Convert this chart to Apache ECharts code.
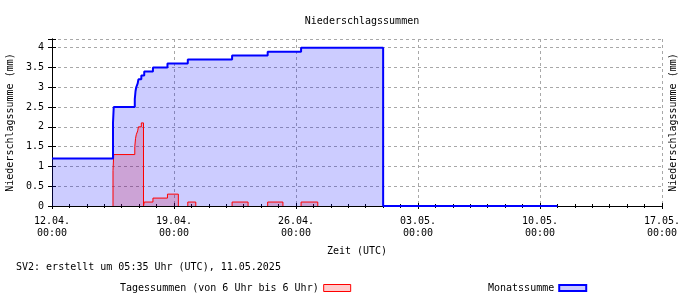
<!DOCTYPE html>
<html><head><meta charset="utf-8">
<script src="https://cdn.jsdelivr.net/npm/echarts@6/dist/echarts.min.js"></script>
<style>html,body{margin:0;padding:0;background:#fff}#c{width:700px;height:300px}</style>
</head><body><div id="c"></div>
<script>
const chartTitle = 'Niederschlagssummen';
const yAxisName = 'Niederschlagssumme (mm)';
const xAxisName = 'Zeit (UTC)';
const footnote = 'SV2: erstellt um 05:35 Uhr (UTC), 11.05.2025';
const tagesName = 'Tagessummen (von 6 Uhr bis 6 Uhr)';
const monatName = 'Monatssumme';
const xTickLabels = ['12.04.\n00:00', '19.04.\n00:00', '26.04.\n00:00', '03.05.\n00:00', '10.05.\n00:00', '17.05.\n00:00'];
const xStart = '12.04. 00:00';
const xEnd = '17.05. 00:00';

// Monatssumme (cumulative month sum), value holds from time onward
const monatTimes = ['12.04. 00:00','15.04. 12:00','15.04. 13:00','16.04. 18:00','16.04. 19:00','16.04. 20:00','16.04. 22:00','16.04. 23:00','17.04. 03:00','17.04. 07:00','17.04. 19:00','18.04. 15:00','19.04. 19:00','22.04. 08:00','24.04. 09:00','26.04. 07:00','01.05. 00:00','11.05. 00:00'];
const monatValues = [1.2, 2.1, 2.5, 2.7, 2.9, 3.0, 3.1, 3.2, 3.3, 3.4, 3.5, 3.6, 3.7, 3.8, 3.9, 4.0, 0, 0];

// Tagessummen (running daily sum 6-6 UTC), null = gap
const tagesTimes = ['15.04. 12:00','15.04. 12:00','15.04. 13:00','16.04. 18:00','16.04. 19:00','16.04. 20:00','16.04. 22:00','16.04. 23:00','17.04. 03:00','17.04. 06:00','17.04. 07:00','17.04. 19:00','18.04. 15:00','19.04. 06:00','19.04. 06:00',
  '19.04. 19:00','19.04. 19:00','20.04. 06:00','20.04. 06:00',
  '22.04. 08:00','22.04. 08:00','23.04. 06:00','23.04. 06:00',
  '24.04. 09:00','24.04. 09:00','25.04. 06:00','25.04. 06:00',
  '26.04. 07:00','26.04. 07:00','27.04. 06:00'];
const tagesValues = [0, 0.9, 1.3, 1.5, 1.7, 1.8, 1.9, 2.0, 2.1, 0, 0.1, 0.2, 0.3, 0, null,
  0, 0.1, 0, null,
  0, 0.1, 0, null,
  0, 0.1, 0, null,
  0, 0.1, 0];

function toHours(s) {
  const m = s.match(/(\d+)\.(\d+)\.\s+(\d+):(\d+)/);
  return (Date.UTC(2025, +m[2] - 1, +m[1], +m[3], +m[4]) - Date.UTC(2025, 3, 12)) / 3600000;
}
const FONT = 'DejaVu Sans Mono';
const xMin = toHours(xStart), xMax = toHours(xEnd);
const weekH = 168;
const monatData = monatTimes.map((t, i) => [toHours(t), monatValues[i]]);
const tagesData = tagesTimes.map((t, i) => [toHours(t), tagesValues[i]]);

const txt = {fontFamily: FONT, fontSize: 10, color: '#000'};
const gridLine = {show: true, lineStyle: {color: '#a8a8a8', type: [3, 3], width: 1}};
const yLabelFmt = v => (Math.abs(v * 2 - Math.round(v * 2)) < 1e-6 ? String(v) : '');

const chart = echarts.init(document.getElementById('c'), null, {renderer: 'canvas'});
chart.setOption({
  animation: false,
  backgroundColor: '#fff',
  title: {text: chartTitle, left: 357, top: 11, textAlign: 'center', textStyle: Object.assign({fontWeight: 'normal'}, txt)},
  grid: {left: 52, right: 38, top: 39, bottom: 94, containLabel: false, outerBoundsMode: 'none'},
  legend: [
    {data: [{name: tagesName, icon: 'rect', itemStyle: {color: '#ffcccc', borderColor: '#ff0000', borderWidth: 1}}],
     left: 120, top: 283, align: 'right', padding: 0, itemWidth: 27, itemHeight: 7, itemGap: 6, textStyle: txt, selectedMode: false},
    {data: [{name: monatName, icon: 'rect', itemStyle: {color: '#ccccff', borderColor: '#0000ff', borderWidth: 2}}],
     left: 488, top: 283, align: 'right', padding: 0, itemWidth: 27, itemHeight: 6, itemGap: 6, textStyle: txt, selectedMode: false}
  ],
  xAxis: [
    {type: 'value', min: xMin, max: xMax, interval: weekH, position: 'bottom',
     name: xAxisName, nameLocation: 'middle', nameGap: 40, nameTextStyle: txt,
     axisLine: {show: true, lineStyle: {color: '#000', width: 1}},
     axisTick: {show: true, inside: true, length: 3, lineStyle: {color: '#000'}},
     minorTick: {show: true, splitNumber: 7, length: 2, lineStyle: {color: '#000'}},
     axisLabel: Object.assign({margin: 9, lineHeight: 12, formatter: v => xTickLabels[Math.round((v - xMin) / weekH)] || ''}, txt),
     splitLine: gridLine},
    {type: 'value', min: xMin, max: xMax, interval: weekH, position: 'top',
     axisLine: {show: true, lineStyle: {color: '#000', width: 1}},
     axisTick: {show: true, inside: true, length: 3, lineStyle: {color: '#000'}},
     minorTick: {show: true, splitNumber: 7, length: 2, lineStyle: {color: '#000'}},
     axisLabel: {show: false}, splitLine: {show: false}}
  ],
  yAxis: [
    {type: 'value', min: 0, max: 4.22, interval: 0.5, position: 'left',
     name: yAxisName, nameLocation: 'middle', nameRotate: 90, nameGap: 36, nameTextStyle: txt,
     axisLine: {show: true, lineStyle: {color: '#000', width: 1}},
     axisTick: {show: true, inside: true, length: 4, lineStyle: {color: '#000'}},
     axisLabel: Object.assign({margin: 8, formatter: yLabelFmt}, txt),
     splitLine: gridLine},
    {type: 'value', min: 0, max: 4.22, interval: 0.5, position: 'right',
     name: yAxisName, nameLocation: 'middle', nameRotate: 90, nameGap: 6, nameTextStyle: txt,
     axisLine: {show: true, lineStyle: {color: '#000', width: 1}},
     axisTick: {show: true, inside: true, length: 4, lineStyle: {color: '#000'}},
     axisLabel: {show: false}, splitLine: {show: false}}
  ],
  series: [
    {name: tagesName, type: 'line', step: 'end', data: tagesData, showSymbol: false, connectNulls: false,
     lineStyle: {color: '#ff0000', width: 1}, itemStyle: {color: '#ff0000'},
     areaStyle: {color: 'rgba(255,0,0,0.2)', opacity: 1, origin: 'start'}},
    {name: monatName, type: 'line', step: 'end', data: monatData, showSymbol: false,
     lineStyle: {color: '#0000ff', width: 2}, itemStyle: {color: '#0000ff'},
     areaStyle: {color: 'rgba(0,0,255,0.2)', opacity: 1, origin: 'start'}}
  ],
  graphic: [
    {type: 'text', left: 16, top: 262, style: {text: footnote, font: '10px "DejaVu Sans Mono"', fill: '#000'}}
  ]
});
</script></body></html>
